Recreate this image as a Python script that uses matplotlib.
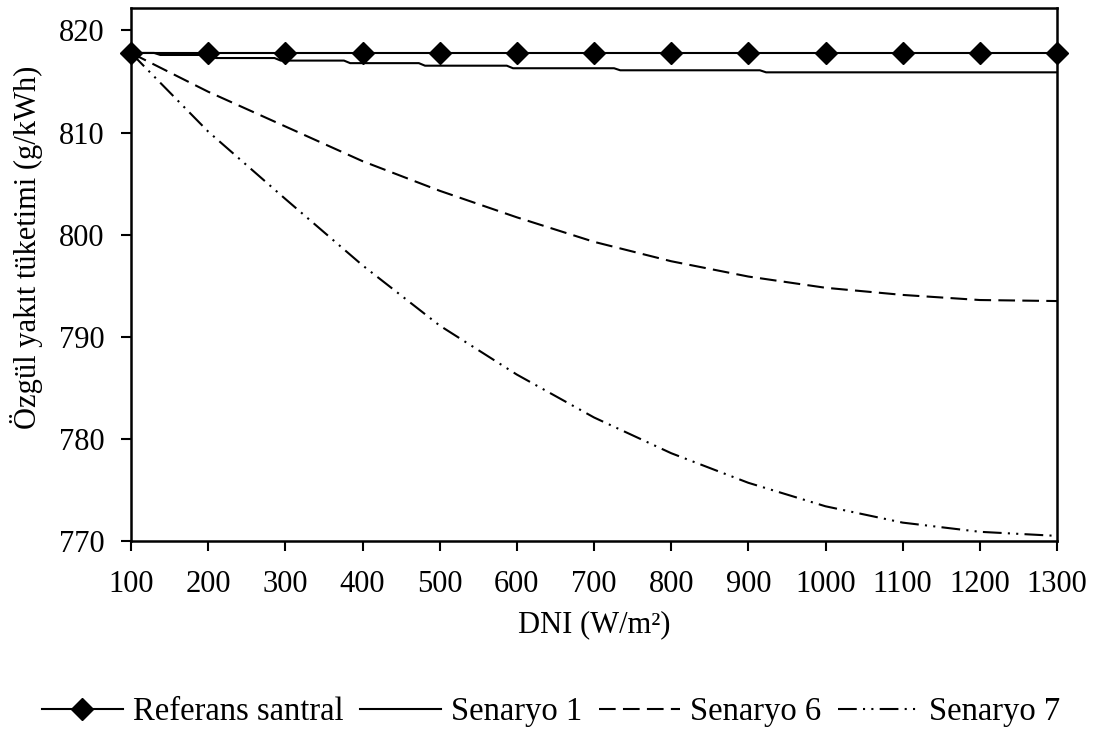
import matplotlib
matplotlib.use("Agg")
import matplotlib.pyplot as plt

plt.rcParams['font.family'] = ['Liberation Serif', 'DejaVu Serif']
plt.rcParams['font.size'] = 22

# data
dni = [100, 200, 300, 400, 500, 600, 700, 800, 900, 1000, 1100, 1200, 1300]
referans = [817.8, 817.8, 817.8, 817.8, 817.8, 817.8, 817.8, 817.8, 817.8,
            817.8, 817.8, 817.8, 817.8]

# senaryo 1 is a staircase (rounded values), so keep its break points
dni_s1 = [100, 130, 138, 202, 210, 286, 294, 376, 384, 473, 481, 587, 595,
          726, 734, 915, 923, 1300]
senaryo1 = [817.8, 817.8, 817.6, 817.6, 817.3, 817.3, 817.05, 817.05, 816.8,
            816.8, 816.55, 816.55, 816.3, 816.3, 816.1, 816.1, 815.9, 815.9]

senaryo6 = [817.8, 814.0, 810.6, 807.2, 804.3, 801.7, 799.3, 797.4, 795.9,
            794.8, 794.1, 793.6, 793.5]
senaryo7 = [817.8, 810.1, 803.5, 797.0, 791.1, 786.3, 782.1, 778.6, 775.7,
            773.4, 771.8, 770.9, 770.5]

labels = ['Referans santral', 'Senaryo 1', 'Senaryo 6', 'Senaryo 7']
xticks = list(range(100, 1301, 100))
yticks = [770, 780, 790, 800, 810, 820]

fig = plt.figure(figsize=(11.02, 7.40), dpi=100)
ax = fig.add_axes([131 / 1102, 1 - 541 / 740, 926 / 1102, 533 / 740])

lw = 1.5
ax.plot(dni, referans, color='black', lw=lw, marker='D', markersize=11,
        label=labels[0], zorder=5, clip_on=False)
ax.plot(dni_s1, senaryo1, color='black', lw=lw, label=labels[1])
ax.plot(dni, senaryo6, color='black', lw=lw, linestyle=(0, (8, 3.5)),
        label=labels[2])
ax.plot(dni, senaryo7, color='black', lw=lw,
        linestyle=(0, (9, 3, 1, 3, 1, 3)), label=labels[3])

ax.set_xlim(100, 1300)
ax.set_ylim(770, 822.2)
ax.set_xticks(xticks)
ax.set_yticks(yticks)
ax.tick_params(direction='out', length=7, width=1.5)
ax.tick_params(axis='x', pad=14)
ax.tick_params(axis='y', pad=12)
for s in ax.spines.values():
    s.set_linewidth(1.8)

ax.set_xlabel('DNI (W/m²)', labelpad=8)
fig.text(27 / 1102, 1 - 247 / 740, 'Özgül yakıt tüketimi (g/kWh)',
         rotation=90, ha='center', va='center')

fig.legend(loc='center', bbox_to_anchor=(0.5, 1 - 712 / 740), ncol=4,
           frameon=False, handlelength=2.5, columnspacing=0.5,
           handletextpad=0.3, fontsize=23.5)

fig.savefig('out.png', dpi=100)
